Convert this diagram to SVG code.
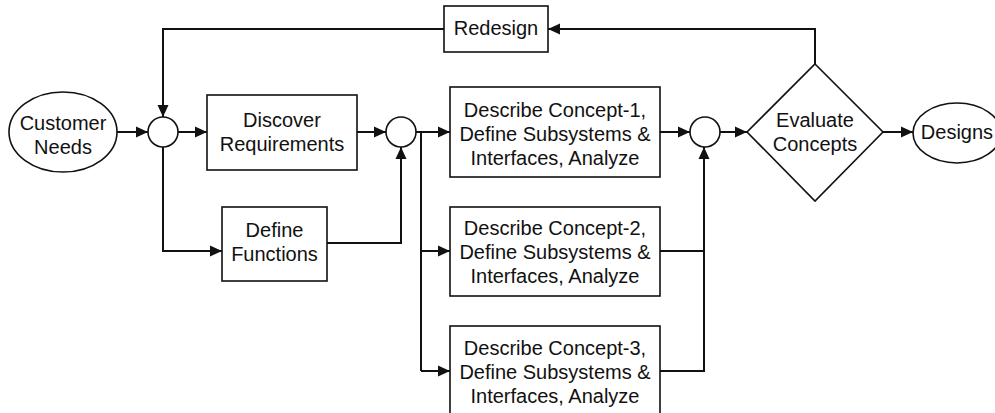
<svg xmlns="http://www.w3.org/2000/svg" width="995" height="413" viewBox="0 0 995 413">
  <style>
    .shape { fill: #ffffff; stroke: #111111; stroke-width: 1.6; }
    .label { font-family: "Liberation Sans", Arial, sans-serif; font-size: 20px; fill: #111111; text-anchor: middle; }
    .wire { fill: none; stroke: #111111; stroke-width: 2; }
    .arrow { marker-end: url(#head); }
  </style>
  <defs>
    <marker id="head" markerUnits="userSpaceOnUse" markerWidth="12" markerHeight="12" viewBox="0 0 12 12" refX="12" refY="6" orient="auto">
      <path d="M0,0.5 L12,6 L0,11.5 Z" fill="#111111"/>
    </marker>
  </defs>

  <rect width="995" height="413" fill="#ffffff"/>

  <!-- connectors -->
  <g id="connectors">
    <path class="wire arrow" d="M117,132 H148"/>
    <path class="wire arrow" d="M178,132 H207"/>
    <path class="wire arrow" d="M357,132 H386"/>
    <path class="wire arrow" d="M163,147 V251 H222"/>
    <path class="wire arrow" d="M327,243 H401 V147"/>
    <path class="wire arrow" d="M416,132 H450"/>
    <path class="wire" d="M421,132 V371"/>
    <path class="wire arrow" d="M421,251 H450"/>
    <path class="wire arrow" d="M421,371 H450"/>
    <path class="wire arrow" d="M660,132 H690"/>
    <path class="wire arrow" d="M660,251 H704 V147"/>
    <path class="wire" d="M660,371 H704 V251"/>
    <path class="wire arrow" d="M720,132 H747"/>
    <path class="wire arrow" d="M883,132 H913"/>
    <path class="wire arrow" d="M815,64 V29 H548"/>
    <path class="wire arrow" d="M444,29 H163 V117"/>
  </g>

  <g id="customer-needs">
    <ellipse class="shape" cx="63" cy="132" rx="54" ry="40"/>
    <text class="label" x="63" y="130">Customer</text>
    <text class="label" x="63" y="154">Needs</text>
  </g>

  <g id="junction-1">
    <circle class="shape" cx="163" cy="132" r="15"/>
  </g>

  <g id="discover-requirements">
    <rect class="shape" x="207" y="95" width="150" height="75"/>
    <text class="label" x="282" y="127">Discover</text>
    <text class="label" x="282" y="151">Requirements</text>
  </g>

  <g id="define-functions">
    <rect class="shape" x="222" y="207" width="105" height="74"/>
    <text class="label" x="274.5" y="237">Define</text>
    <text class="label" x="274.5" y="261">Functions</text>
  </g>

  <g id="junction-2">
    <circle class="shape" cx="401" cy="132" r="15"/>
  </g>

  <g id="concept-1">
    <rect class="shape" x="450" y="87" width="210" height="90"/>
    <text class="label" x="555" y="117">Describe Concept-1,</text>
    <text class="label" x="555" y="141">Define Subsystems &amp;</text>
    <text class="label" x="555" y="165">Interfaces, Analyze</text>
  </g>

  <g id="concept-2">
    <rect class="shape" x="450" y="207" width="210" height="89"/>
    <text class="label" x="555" y="235">Describe Concept-2,</text>
    <text class="label" x="555" y="259">Define Subsystems &amp;</text>
    <text class="label" x="555" y="283">Interfaces, Analyze</text>
  </g>

  <g id="concept-3">
    <rect class="shape" x="450" y="326" width="210" height="89"/>
    <text class="label" x="555" y="355">Describe Concept-3,</text>
    <text class="label" x="555" y="379">Define Subsystems &amp;</text>
    <text class="label" x="555" y="403">Interfaces, Analyze</text>
  </g>

  <g id="junction-3">
    <circle class="shape" cx="705" cy="132" r="15"/>
  </g>

  <g id="evaluate-concepts">
    <polygon class="shape" points="815,64 883,132 815,201 747,132"/>
    <text class="label" x="815" y="127">Evaluate</text>
    <text class="label" x="815" y="151">Concepts</text>
  </g>

  <g id="designs">
    <ellipse class="shape" cx="957" cy="133" rx="44" ry="30"/>
    <text class="label" x="957" y="139">Designs</text>
  </g>

  <g id="redesign">
    <rect class="shape" x="444" y="6" width="104" height="46"/>
    <text class="label" x="496" y="35">Redesign</text>
  </g>
</svg>
